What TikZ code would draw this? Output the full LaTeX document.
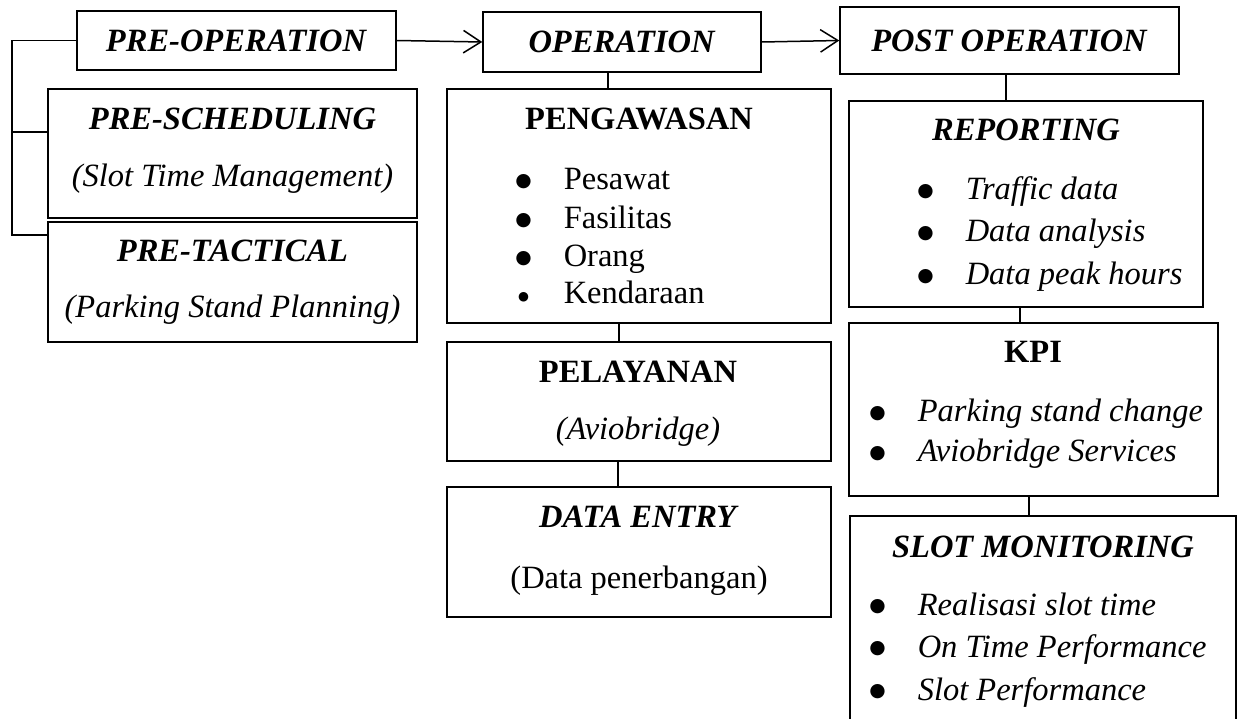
\documentclass[tikz,border=0pt]{standalone}
\usepackage{fontspec}
\setmainfont{Liberation Serif}
\newfontfamily\dotfont{DejaVu Sans}
\usetikzlibrary{arrows.meta}
\newcommand{\arw}{-{Straight Barb[length=7pt,width=9pt]}}
\newcommand{\bul}[1][7.5pt]{\llap{\makebox[0pt][c]{\raisebox{1.5pt}{\dotfont\fontsize{#1}{#1}\selectfont ●}}\hspace{16.1pt}}}
\newcommand{\vlink}[3]{\draw ([xshift=#3]#1.south) -- ([xshift=#3]#1.south |- #2.north);}

\begin{document}
\begin{tikzpicture}[x=.4pt,y=-.4pt,line width=.6pt,
  every node/.style={font=\fontsize{13pt}{15pt}\selectfont},
  box/.style={draw,inner sep=0pt},
  ttl/.style={anchor=base,inner sep=0pt},
  itm/.style={anchor=base west,inner sep=0pt}]
\useasboundingbox (0,0) rectangle (1242,719);
\clip (0,0) rectangle (1242,719);
%pre-operation
\node[box,minimum width=127.6pt,minimum height=23.6pt] (preop) at (236.5,40.5) {\textbf{\textit{PRE-OPERATION}}};
\node[box,minimum width=147.6pt,minimum height=51.6pt] (presch) at (232.5,153.5) {};
\node[box,minimum width=147.6pt,minimum height=48pt] (pretac) at (232.5,282) {};
\node[ttl] (presch1) at (232.5,130) {\textbf{\textit{PRE-SCHEDULING}}};
\node[ttl] (presch2) at (232.5,187) {\textit{(Slot Time Management)}};
\node[ttl] (pretac1) at (232.5,262) {\textbf{\textit{PRE-TACTICAL}}};
\node[ttl] (pretac2) at (232.5,318) {\textit{(Parking Stand Planning)}};
\coordinate (spine) at (12,235);
\draw (preop.west) -| (spine) -- (spine -| pretac.west);
\draw ([yshift=8.6pt]presch.west) -- ++(-36,0);
%operation
\node[box,minimum width=111.2pt,minimum height=24pt] (op) at (622,42) {\textbf{\textit{OPERATION}}};
\node[box,minimum width=153.6pt,minimum height=93.6pt] (peng) at (639,206) {};
\node[box,minimum width=153.6pt,minimum height=47.6pt] (pel) at (639,401.5) {};
\node[box,minimum width=153.6pt,minimum height=52pt] (dent) at (639,552) {};
\node[ttl] (peng0) at (639,130) {\textbf{PENGAWASAN}};
\node[itm] (peng1) at (563,190) {\bul Pesawat};
\node[itm] (peng2) at (563,229) {\bul Fasilitas};
\node[itm] (peng3) at (563,267) {\bul Orang};
\node[itm] (peng4) at (563,304) {\bul[5pt]Kendaraan};
\node[ttl] (pel1) at (638,383) {\textbf{PELAYANAN}};
\node[ttl] (pel2) at (638,440) {\textit{(Aviobridge)}};
\node[ttl] (dent1) at (639,527) {\textbf{\textit{DATA ENTRY}}};
\node[ttl] (dent2) at (639,588) {(Data penerbangan)};
\vlink{op}{peng}{-5.6pt}
\vlink{peng}{pel}{-8pt}
\vlink{pel}{dent}{-8.4pt}
%post operation
\node[box,minimum width=135.6pt,minimum height=26.8pt] (post) at (1009.5,40.5) {\textbf{\textit{POST OPERATION}}};
\node[box,minimum width=141.6pt,minimum height=82.4pt] (rep) at (1026,204) {};
\node[box,minimum width=147.6pt,minimum height=69.2pt] (kpi) at (1033.5,409.5) {};
\node[box,minimum width=154.4pt,minimum height=100pt] (slot) at (1043,641) {};
\node[ttl] (rep0) at (1026,141) {\textbf{\textit{REPORTING}}};
\node[itm] (rep1) at (965,200) {\bul\textit{Traffic data}};
\node[itm] (rep2) at (965,242) {\bul\textit{Data analysis}};
\node[itm] (rep3) at (965,285) {\bul\textit{Data peak hours}};
\node[ttl] (kpi0) at (1033,363) {\textbf{KPI}};
\node[itm] (kpi1) at (917,422) {\bul\textit{Parking stand change}};
\node[itm] (kpi2) at (917,462) {\bul\textit{Aviobridge Services}};
\node[ttl] (slot0) at (1043,557) {\textbf{\textit{SLOT MONITORING}}};
\node[itm] (slot1) at (917,615) {\bul\textit{Realisasi slot time}};
\node[itm] (slot2) at (917,657) {\bul\textit{On Time Performance}};
\node[itm] (slot3) at (917,700) {\bul\textit{Slot Performance}};
\vlink{post}{rep}{-1.4pt}
\vlink{rep}{kpi}{-2.4pt}
\vlink{kpi}{slot}{-1.8pt}
%flow
\draw[\arw] (preop.east) -- (op.west);
\draw[\arw] (op.east) -- (post.west);
\end{tikzpicture}
\end{document}
